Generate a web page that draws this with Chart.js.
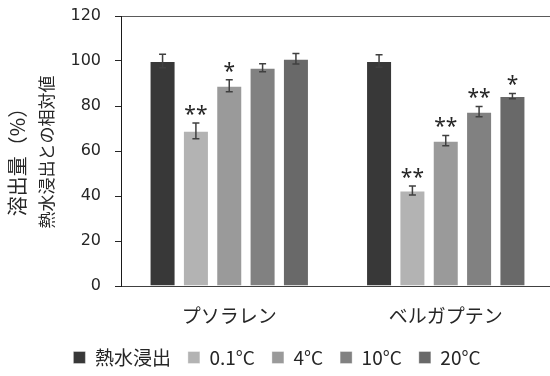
<!DOCTYPE html>
<html>
<head>
<meta charset="utf-8">
<script src="https://cdn.jsdelivr.net/npm/chart.js@4/dist/chart.umd.min.js"></script>
<style>
  html, body { margin: 0; padding: 0; background: #fff; overflow: hidden; }
  #wrap { width: 550px; height: 376px; overflow: hidden; }
</style>
</head>
<body>
<div id="wrap"><canvas id="c" width="554" height="377"></canvas></div>
<script>
// Categories and series
const categories = ['プソラレン', 'ベルガプテン'];
const seriesNames = ['熱水浸出', '0.1°C', '4°C', '10°C', '20°C'];

// Relative dissolution (%) per series: [プソラレン, ベルガプテン]
const hotWater = [100, 100];
const temp01 = [69, 42.4];
const temp4 = [89, 64.6];
const temp10 = [97, 77.5];
const temp20 = [101, 84.4];

// Error bar half-widths
const hotWaterErr = [3, 2.8];
const temp01Err = [3.5, 2];
const temp4Err = [2.7, 2.3];
const temp10Err = [1.8, 2.3];
const temp20Err = [2.3, 1.2];

// Significance marks
const hotWaterSig = ['', ''];
const temp01Sig = ['**', '**'];
const temp4Sig = ['*', '**'];
const temp10Sig = ['', '**'];
const temp20Sig = ['', '*'];

// Value axis
const yMin = 0, yMax = 120, yStep = 20;

const seriesValues = [hotWater, temp01, temp4, temp10, temp20];
const seriesErrors = [hotWaterErr, temp01Err, temp4Err, temp10Err, temp20Err];
const seriesSig = [hotWaterSig, temp01Sig, temp4Sig, temp10Sig, temp20Sig];
const seriesColors = ['#383838', '#b3b3b3', '#9a9a9a', '#818181', '#696969'];

const FONT = '"Noto Sans CJK JP", "Noto Sans", sans-serif';
const NUM_FONT = '"DejaVu Sans", sans-serif';

const datasets = seriesNames.map((name, i) => ({
  label: name,
  data: seriesValues[i],
  errors: seriesErrors[i],
  marks: seriesSig[i],
  backgroundColor: seriesColors[i],
  borderColor: 'rgba(255,255,255,0.35)',
  borderWidth: 1,
  categoryPercentage: 0.77,
  barPercentage: 0.78
}));

// Error bars and significance asterisks above each bar
const errorBarPlugin = {
  id: 'errorBars',
  afterDatasetsDraw(chart) {
    const ctx = chart.ctx;
    const y = chart.scales.y;
    chart.data.datasets.forEach((ds, di) => {
      const meta = chart.getDatasetMeta(di);
      meta.data.forEach((bar, i) => {
        const v = ds.data[i], e = ds.errors[i];
        const top = y.getPixelForValue(v + e);
        const bot = y.getPixelForValue(v - e);
        const x = bar.x;
        ctx.save();
        ctx.strokeStyle = '#404040';
        ctx.lineWidth = 1.5;
        ctx.beginPath();
        ctx.moveTo(x, top); ctx.lineTo(x, bot);
        ctx.moveTo(x - 3.5, top); ctx.lineTo(x + 3.5, top);
        ctx.moveTo(x - 3.5, bot); ctx.lineTo(x + 3.5, bot);
        ctx.stroke();
        const mark = ds.marks[i];
        if (mark) {
          ctx.fillStyle = '#262626';
          ctx.font = '21px "Noto Sans", sans-serif';
          ctx.textAlign = 'center';
          ctx.textBaseline = 'alphabetic';
          ctx.fillText(mark, x, top - 2);
        }
        ctx.restore();
      });
    });
  }
};

// Two-line rotated value-axis title
const yTitlePlugin = {
  id: 'yTitle',
  afterDraw(chart) {
    const ctx = chart.ctx;
    ctx.save();
    ctx.fillStyle = '#262626';
    ctx.textAlign = 'center';
    ctx.textBaseline = 'middle';
    ctx.translate(17, 157);
    ctx.rotate(-Math.PI / 2);
    ctx.font = '20px ' + FONT;
    ctx.fillText('溶出量（%）', 0, 0);
    ctx.restore();
    ctx.save();
    ctx.fillStyle = '#262626';
    ctx.textAlign = 'center';
    ctx.textBaseline = 'middle';
    ctx.translate(47, 152);
    ctx.rotate(-Math.PI / 2);
    ctx.font = '17px ' + FONT;
    ctx.fillText('熱水浸出との相対値', 0, 0);
    ctx.restore();
  }
};

new Chart(document.getElementById('c'), {
  type: 'bar',
  data: { labels: categories, datasets },
  plugins: [errorBarPlugin, yTitlePlugin],
  options: {
    responsive: false,
    animation: false,
    layout: { padding: { top: 16, right: 0, bottom: 0, left: 0 } },
    plugins: {
      tooltip: { enabled: false },
      legend: {
        position: 'bottom',
        labels: {
          boxWidth: 12,
          boxHeight: 12,
          padding: 17,
          color: '#262626',
          font: { family: FONT, size: 19 }
        }
      }
    },
    scales: {
      x: {
        afterFit(scale) { scale.height = 45; },
        grid: { display: false, drawTicks: false },
        border: { display: true, color: '#404040', width: 1 },
        ticks: {
          padding: 18,
          color: '#262626',
          font: { family: FONT, size: 19 }
        }
      },
      y: {
        min: yMin,
        max: yMax,
        afterFit(scale) {
          scale.width = 121;
          scale.paddingTop = 0;
          scale.paddingBottom = 0;
        },
        ticks: {
          stepSize: yStep,
          padding: 14,
          color: '#262626',
          font: { family: NUM_FONT, size: 16 }
        },
        grid: {
          color: (c) => (c.tick && c.tick.value === yMax ? '#5a5a5a' : 'rgba(0,0,0,0)'),
          tickColor: '#262626',
          tickLength: 6,
          lineWidth: 1
        },
        border: { display: true, color: '#1a1a1a', width: 1 }
      }
    }
  }
});
</script>
</body>
</html>
